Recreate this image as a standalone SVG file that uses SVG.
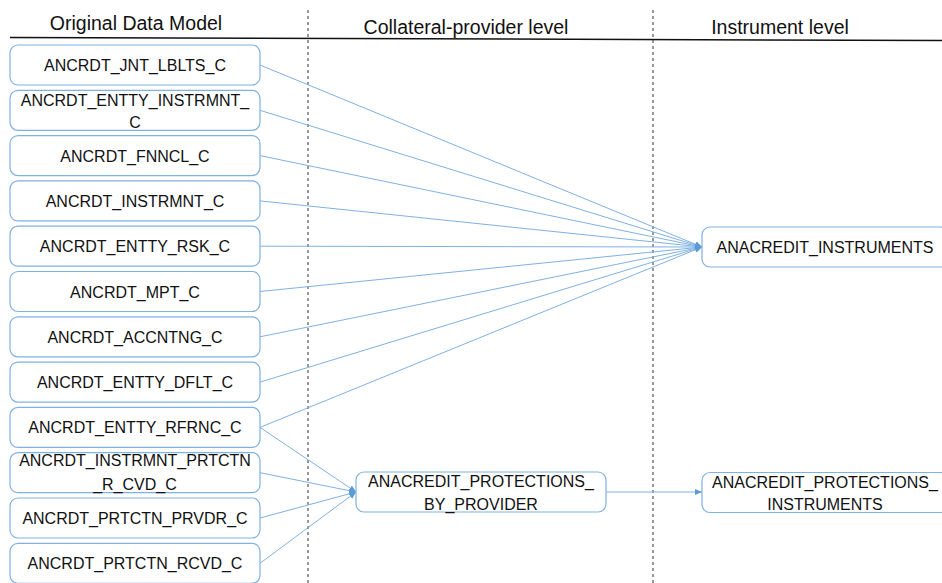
<svg xmlns="http://www.w3.org/2000/svg" width="942" height="583" viewBox="0 0 942 583">
<defs>
<marker id="arr" viewBox="0 0 8 8" refX="8" refY="4" markerWidth="7" markerHeight="7" markerUnits="userSpaceOnUse" orient="auto">
<path d="M0,0.5 L8,4 L0,7.5 Z" fill="#5b9bd5"/>
</marker>
<style>
.box{fill:#fff;stroke:#7fb1e1;stroke-width:1.2}
.t{font-family:"Liberation Sans",Arial,sans-serif;font-size:16px;fill:#111;text-anchor:middle}
.h{font-family:"Liberation Sans",Arial,sans-serif;font-size:19.5px;fill:#111;text-anchor:middle}
.c{stroke:#7fb1e1;stroke-width:1;fill:none}
.dash{stroke:#333;stroke-width:1;stroke-dasharray:3,3}
</style>
</defs>
<rect width="942" height="583" fill="#fff"/>
<g id="headers">
<line x1="10" y1="37.5" x2="942" y2="40.5" stroke="#111" stroke-width="1.5"/>
<line class="dash" x1="308" y1="10" x2="308" y2="583"/>
<line class="dash" x1="653" y1="10" x2="653" y2="583"/>
<text class="h" x="136" y="30">Original Data Model</text>
<text class="h" x="466" y="34">Collateral-provider level</text>
<text class="h" x="780" y="34">Instrument level</text>
</g>
<g id="connectors">
<line class="c" x1="260" y1="65" x2="702" y2="247" marker-end="url(#arr)"/>
<line class="c" x1="260" y1="110.3" x2="702" y2="247" marker-end="url(#arr)"/>
<line class="c" x1="260" y1="155.6" x2="702" y2="247" marker-end="url(#arr)"/>
<line class="c" x1="260" y1="200.9" x2="702" y2="247" marker-end="url(#arr)"/>
<line class="c" x1="260" y1="246.2" x2="702" y2="247" marker-end="url(#arr)"/>
<line class="c" x1="260" y1="291.5" x2="702" y2="247" marker-end="url(#arr)"/>
<line class="c" x1="260" y1="336.8" x2="702" y2="247" marker-end="url(#arr)"/>
<line class="c" x1="260" y1="382.1" x2="702" y2="247" marker-end="url(#arr)"/>
<line class="c" x1="260" y1="427.4" x2="702" y2="247" marker-end="url(#arr)"/>
<line class="c" x1="260" y1="427.4" x2="356" y2="492" marker-end="url(#arr)"/>
<line class="c" x1="260" y1="472.7" x2="356" y2="492" marker-end="url(#arr)"/>
<line class="c" x1="260" y1="518" x2="356" y2="492" marker-end="url(#arr)"/>
<line class="c" x1="260" y1="563.3" x2="356" y2="492" marker-end="url(#arr)"/>
<line class="c" x1="606" y1="492" x2="702" y2="492" marker-end="url(#arr)"/>
</g>
<g id="n1"><rect class="box" x="10" y="45" width="250" height="40" rx="8"/><text class="t" x="135" y="71">ANCRDT_JNT_LBLTS_C</text></g>
<g id="n2"><rect class="box" x="10" y="90.3" width="250" height="40" rx="8"/><text class="t" x="135" y="106">ANCRDT_ENTTY_INSTRMNT_</text><text class="t" x="135" y="128">C</text></g>
<g id="n3"><rect class="box" x="10" y="135.6" width="250" height="40" rx="8"/><text class="t" x="135" y="161.6">ANCRDT_FNNCL_C</text></g>
<g id="n4"><rect class="box" x="10" y="180.9" width="250" height="40" rx="8"/><text class="t" x="135" y="206.9">ANCRDT_INSTRMNT_C</text></g>
<g id="n5"><rect class="box" x="10" y="226.2" width="250" height="40" rx="8"/><text class="t" x="135" y="252.2">ANCRDT_ENTTY_RSK_C</text></g>
<g id="n6"><rect class="box" x="10" y="271.5" width="250" height="40" rx="8"/><text class="t" x="135" y="297.5">ANCRDT_MPT_C</text></g>
<g id="n7"><rect class="box" x="10" y="316.8" width="250" height="40" rx="8"/><text class="t" x="135" y="342.8">ANCRDT_ACCNTNG_C</text></g>
<g id="n8"><rect class="box" x="10" y="362.1" width="250" height="40" rx="8"/><text class="t" x="135" y="388.1">ANCRDT_ENTTY_DFLT_C</text></g>
<g id="n9"><rect class="box" x="10" y="407.4" width="250" height="40" rx="8"/><text class="t" x="135" y="433.4">ANCRDT_ENTTY_RFRNC_C</text></g>
<g id="n10"><rect class="box" x="10" y="452.7" width="250" height="40" rx="8"/><text class="t" x="135" y="466">ANCRDT_INSTRMNT_PRTCTN</text><text class="t" x="135" y="490">_R_CVD_C</text></g>
<g id="n11"><rect class="box" x="10" y="498" width="250" height="40" rx="8"/><text class="t" x="135" y="524">ANCRDT_PRTCTN_PRVDR_C</text></g>
<g id="n12"><rect class="box" x="10" y="543.3" width="250" height="40" rx="8"/><text class="t" x="135" y="569.3">ANCRDT_PRTCTN_RCVD_C</text></g>
<g id="instruments"><rect class="box" x="702" y="227" width="246" height="40" rx="8"/><text class="t" x="825" y="253">ANACREDIT_INSTRUMENTS</text></g>
<g id="prot_by_provider"><rect class="box" x="356" y="472" width="250" height="40" rx="8"/><text class="t" x="481" y="487">ANACREDIT_PROTECTIONS_</text><text class="t" x="481" y="510">BY_PROVIDER</text></g>
<g id="prot_instruments"><rect class="box" x="702" y="472.5" width="246" height="40" rx="8"/><text class="t" x="825" y="488">ANACREDIT_PROTECTIONS_</text><text class="t" x="825" y="510">INSTRUMENTS</text></g>
</svg>
